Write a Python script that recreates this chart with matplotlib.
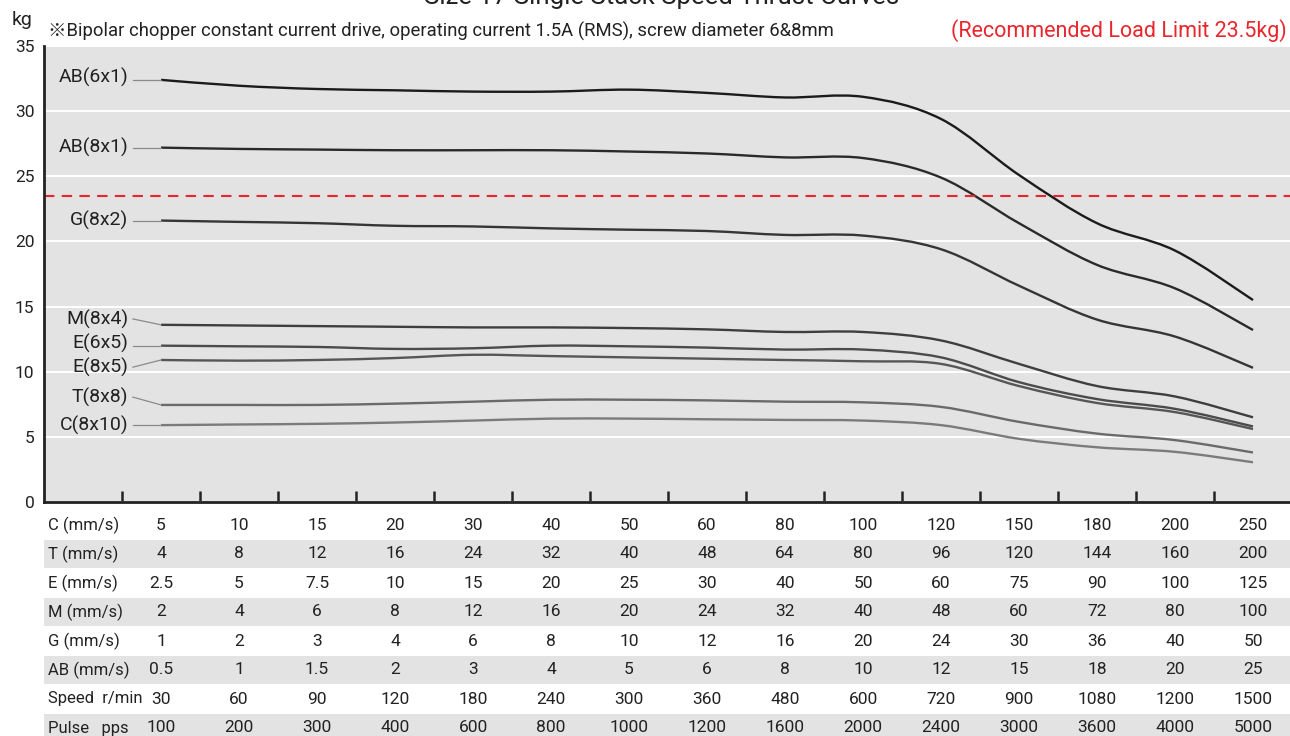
import numpy as np
import matplotlib.pyplot as plt
from matplotlib.path import Path
from matplotlib.patches import PathPatch, Rectangle

plt.rcParams['font.family'] = ['Roboto', 'Noto Sans CJK JP', 'DejaVu Sans']

# thrust (kg) read per speed column, 15 columns
series_names = ['AB(6x1)', 'AB(8x1)', 'G(8x2)', 'M(8x4)', 'E(6x5)', 'E(8x5)', 'T(8x8)', 'C(8x10)']
ab_6x1 = [32.4, 31.95, 31.7, 31.6, 31.5, 31.5, 31.65, 31.4, 31.05, 31.1, 29.4, 25.1, 21.4, 19.3, 15.5]
ab_8x1 = [27.2, 27.1, 27.05, 27.0, 27.0, 27.0, 26.9, 26.75, 26.45, 26.4, 24.9, 21.4, 18.2, 16.4, 13.2]
g_8x2 = [21.6, 21.5, 21.4, 21.2, 21.15, 21.0, 20.9, 20.8, 20.5, 20.45, 19.4, 16.6, 14.0, 12.7, 10.3]
m_8x4 = [13.6, 13.55, 13.5, 13.45, 13.4, 13.4, 13.35, 13.25, 13.05, 13.05, 12.4, 10.6, 8.9, 8.1, 6.5]
e_6x5 = [12.0, 11.95, 11.9, 11.75, 11.8, 12.0, 11.95, 11.85, 11.7, 11.7, 11.1, 9.2, 7.9, 7.15, 5.8]
e_8x5 = [10.9, 10.85, 10.9, 11.05, 11.3, 11.2, 11.1, 11.0, 10.9, 10.8, 10.6, 8.9, 7.6, 6.9, 5.6]
t_8x8 = [7.45, 7.45, 7.45, 7.55, 7.7, 7.85, 7.85, 7.8, 7.7, 7.65, 7.3, 6.15, 5.25, 4.75, 3.8]
c_8x10 = [5.9, 5.95, 6.0, 6.1, 6.25, 6.4, 6.4, 6.35, 6.3, 6.25, 5.9, 4.85, 4.2, 3.85, 3.05]
load_limit = 23.5

# table rows under the chart
row_labels = ['C (mm/s)', 'T (mm/s)', 'E (mm/s)', 'M (mm/s)', 'G (mm/s)', 'AB (mm/s)',
              'Speed  r/min', 'Pulse   pps']
c_speed = [5, 10, 15, 20, 30, 40, 50, 60, 80, 100, 120, 150, 180, 200, 250]
t_speed = [4, 8, 12, 16, 24, 32, 40, 48, 64, 80, 96, 120, 144, 160, 200]
e_speed = [2.5, 5, 7.5, 10, 15, 20, 25, 30, 40, 50, 60, 75, 90, 100, 125]
m_speed = [2, 4, 6, 8, 12, 16, 20, 24, 32, 40, 48, 60, 72, 80, 100]
g_speed = [1, 2, 3, 4, 6, 8, 10, 12, 16, 20, 24, 30, 36, 40, 50]
ab_speed = [0.5, 1, 1.5, 2, 3, 4, 5, 6, 8, 10, 12, 15, 18, 20, 25]
rpm = [30, 60, 90, 120, 180, 240, 300, 360, 480, 600, 720, 900, 1080, 1200, 1500]
pulse = [100, 200, 300, 400, 600, 800, 1000, 1200, 1600, 2000, 2400, 3000, 3600, 4000, 5000]

series = [ab_6x1, ab_8x1, g_8x2, m_8x4, e_6x5, e_8x5, t_8x8, c_8x10]
table_rows = [c_speed, t_speed, e_speed, m_speed, g_speed, ab_speed, rpm, pulse]

line_colors = ['#1b1b1b', '#2a2a2a', '#353535', '#3e3e3e', '#4b4b4b', '#565656', '#6a6a6a', '#7b7b7b']
label_y = [32.6, 27.2, 21.6, 14.05, 12.2, 10.35, 8.05, 5.9]


def smooth_path(xs, ys):
    # catmull-rom through the points, as cubic bezier segments
    pts = np.column_stack([xs, ys]).astype(float)
    ext = np.vstack([pts[0], pts, pts[-1]])
    verts = [pts[0]]
    codes = [Path.MOVETO]
    for i in range(len(pts) - 1):
        p0, p1, p2, p3 = ext[i], ext[i + 1], ext[i + 2], ext[i + 3]
        verts += [p1 + (p2 - p0) / 6, p2 - (p3 - p1) / 6, p2]
        codes += [Path.CURVE4] * 3
    return Path(verts, codes)


W, H = 1290, 736
fig = plt.figure(figsize=(W / 100, H / 100), dpi=100)

x_left, x_right = -1.5, (W - 161) / 78
ax = fig.add_axes([44 / W, 1 - 502 / H, (W - 44) / W, (502 - 46) / H])
ax.set_facecolor('#e2e3e2')
ax.set_xlim(x_left, x_right)
ax.set_ylim(0, 35)
ax.set_yticks(range(0, 36, 5))
ax.yaxis.grid(True, color='white', lw=1.4)
ax.set_axisbelow(True)
ax.set_xticks(np.arange(-0.5, 14, 1))
ax.set_xticklabels([])
ax.tick_params(axis='x', direction='in', length=8, width=1.8, color='#222222')
ax.tick_params(axis='y', length=0, labelsize=12.5, pad=7, labelcolor='#222222')
for s in ['top', 'right']:
    ax.spines[s].set_visible(False)
for s in ['left', 'bottom']:
    ax.spines[s].set_linewidth(2)
    ax.spines[s].set_color('#222222')

xs = np.arange(len(c_speed))
for name, ys, col, ly in zip(series_names, series, line_colors, label_y):
    ax.add_patch(PathPatch(smooth_path(xs, ys), fill=False, edgecolor=col, lw=1.7, capstyle='butt'))
    ax.plot([-0.36, 0], [ly if abs(ly - ys[0]) > 0.3 else ys[0], ys[0]], color='#8a8a8a', lw=0.9)
    ax.text(-0.42, ly, name, ha='right', va='center', fontsize=14, color='#222222')

ax.axhline(load_limit, color='#e8262d', lw=1.5, ls=(0, (5, 3.5)))

# speed table
tab = fig.add_axes([44 / W, 0, (W - 44) / W, (H - 511) / H])
tab.set_xlim(x_left, x_right)
tab.set_ylim((H - 525) / 29, -(525 - 511) / 29)
tab.axis('off')
for k, (lab, vals) in enumerate(zip(row_labels, table_rows)):
    if k % 2 == 1:
        tab.add_patch(Rectangle((x_left, k - 0.48), x_right - x_left, 0.96,
                                facecolor='#e2e3e2', edgecolor='none'))
    tab.text(-1.45, k, lab, ha='left', va='center', fontsize=12, color='#222222')
    for i, v in enumerate(vals):
        tab.text(i, k, f'{v:g}', ha='center', va='center', fontsize=12.5, color='#222222')

fig.text(662 / W, 1 - 4 / H, 'Size 17 Single Stack Speed Thrust Curves', ha='center',
         va='baseline', fontsize=18.5, color='#222222')
fig.text(12 / W, 1 - 20 / H, 'kg', ha='left', va='center', fontsize=14, color='#222222')
fig.text(48 / W, 1 - 31 / H,
         '※Bipolar chopper constant current drive, operating current 1.5A (RMS), screw diameter 6&8mm',
         ha='left', va='center', fontsize=13.3, color='#222222')
fig.text(1287 / W, 1 - 31 / H, '(Recommended Load Limit 23.5kg)', ha='right', va='center',
         fontsize=15.5, color='#e8262d')

fig.savefig('out.png', dpi=100)
